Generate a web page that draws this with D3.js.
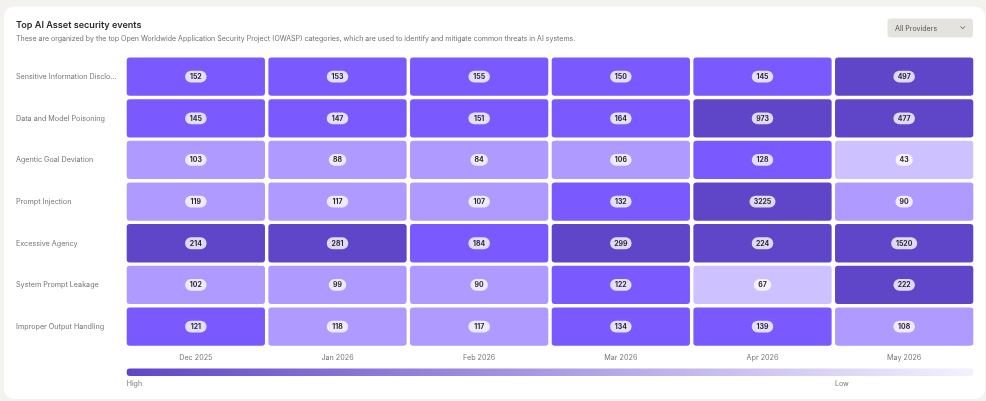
<!DOCTYPE html>
<html>
<head>
<meta charset="utf-8">
<script src="https://cdn.jsdelivr.net/npm/d3@7"></script>
<style>
    html, body { margin: 0; padding: 0; background: #f3f2ee; overflow: hidden; }
    svg { display: block; font-family: Inter, "Noto Sans", sans-serif; filter: blur(0.5px); }
    .axis text { fill: #77756f; font-size: 7.2px; font-family: Inter, "Noto Sans", sans-serif; }
</style>
</head>
<body>
<div id="chart"></div>
<script>
const categories = [
    "Sensitive Information Disclo...",
    "Data and Model Poisoning",
    "Agentic Goal Deviation",
    "Prompt Injection",
    "Excessive Agency",
    "System Prompt Leakage",
    "Improper Output Handling"
];
const months = ["Dec 2025", "Jan 2026", "Feb 2026", "Mar 2026", "Apr 2026", "May 2026"];

// one row per category, same order as above
const sensitiveInfo = [152, 153, 155, 150, 145, 497];
const dataPoisoning = [145, 147, 151, 164, 973, 477];
const goalDeviation = [103, 88, 84, 106, 128, 43];
const promptInjection = [119, 117, 107, 132, 3225, 90];
const excessiveAgency = [214, 281, 184, 299, 224, 1520];
const promptLeakage = [102, 99, 90, 122, 67, 222];
const outputHandling = [121, 118, 117, 134, 139, 108];
const rows = [sensitiveInfo, dataPoisoning, goalDeviation, promptInjection, excessiveAgency, promptLeakage, outputHandling];

const width = 986, height = 401;

const svg = d3.select("#chart").append("svg")
    .attr("width", width)
    .attr("height", height);

const x = d3.scaleBand().domain(months).range([126.7, 973.3]).paddingInner(0.024);
const y = d3.scaleBand().domain(categories).range([57.5, 345.7]).paddingInner(0.08);

// color steps of the heatmap
const color = d3.scaleThreshold()
    .domain([70, 120, 200])
    .range(["#cdc2ff", "#af9aff", "#7a5aff", "#5f46c8"]);

// gradient for the legend
const grad = svg.append("defs").append("linearGradient").attr("id", "legendGrad");
grad.append("stop").attr("offset", "0%").attr("stop-color", "#5f46c8");
grad.append("stop").attr("offset", "100%").attr("stop-color", "#f4f1ff");

// card
svg.append("rect")
    .attr("x", 4).attr("y", 6.5)
    .attr("width", 981).attr("height", 392.5)
    .attr("rx", 10)
    .attr("fill", "#fff");

// title and subtitle
svg.append("text")
    .attr("x", 16).attr("y", 28)
    .attr("font-size", 9.1).attr("font-weight", 600)
    .attr("fill", "#2b2a28")
    .text("Top AI Asset security events");
svg.append("text")
    .attr("x", 16).attr("y", 40.6)
    .attr("font-size", 7)
    .attr("fill", "#73716b")
    .text("These are organized by the top Open Worldwide Application Security Project (OWASP) categories, which are used to identify and mitigate common threats in AI systems.");

// dropdown
svg.append("rect")
    .attr("x", 887.5).attr("y", 18.5)
    .attr("width", 85.5).attr("height", 19)
    .attr("rx", 3)
    .attr("fill", "#e4e3de");
svg.append("text")
    .attr("x", 895).attr("y", 30.5)
    .attr("font-size", 7.1)
    .attr("fill", "#55534e")
    .text("All Providers");
svg.append("path")
    .attr("d", "M960.5 26.5l2.2 2.2l2.2-2.2")
    .attr("fill", "none")
    .attr("stroke", "#55534e")
    .attr("stroke-width", 0.9);

// axes
const yAxis = svg.append("g")
    .attr("class", "axis")
    .attr("transform", "translate(16,0)")
    .call(d3.axisLeft(y).tickSize(0));
yAxis.select(".domain").remove();
yAxis.selectAll("text").attr("x", 0).attr("text-anchor", "start");

const xAxis = svg.append("g")
    .attr("class", "axis")
    .attr("transform", "translate(0,351.4)")
    .call(d3.axisBottom(x).tickSize(0));
xAxis.select(".domain").remove();

// cells
const cells = [];
rows.forEach(function(values, r){
    values.forEach(function(v, c){
        cells.push({category: categories[r], month: months[c], value: v});
    });
});

const cell = svg.append("g").selectAll("g")
    .data(cells)
    .join("g")
    .attr("transform", function(d){
        return "translate(" + x(d.month) + "," + y(d.category) + ")";
    });

cell.append("rect")
    .attr("width", x.bandwidth())
    .attr("height", y.bandwidth())
    .attr("rx", 3)
    .attr("fill", function(d){ return color(d.value); });

// pill width depends on the number of digits
function pillWidth(v){
    const n = String(v).length;
    return n > 3 ? 26 : (n > 2 ? 21.5 : 17.5);
}

cell.append("rect")
    .attr("x", function(d){ return x.bandwidth() / 2 - pillWidth(d.value) / 2; })
    .attr("y", y.bandwidth() / 2 - 5.9)
    .attr("width", function(d){ return pillWidth(d.value); })
    .attr("height", 11.8)
    .attr("rx", 5.9)
    .attr("fill", "#fff")
    .attr("fill-opacity", 0.8);

cell.append("text")
    .attr("x", x.bandwidth() / 2)
    .attr("y", y.bandwidth() / 2 + 2.5)
    .attr("text-anchor", "middle")
    .attr("font-size", 6.9)
    .attr("font-weight", 700)
    .attr("fill", "#2a2833")
    .text(function(d){ return d.value; });

// legend
svg.append("rect")
    .attr("x", 126.7).attr("y", 368.5)
    .attr("width", 846.6).attr("height", 7.5)
    .attr("rx", 3)
    .attr("fill", "url(#legendGrad)");
svg.append("text")
    .attr("x", 126.7).attr("y", 385.5)
    .attr("font-size", 7)
    .attr("fill", "#77756f")
    .text("High");
svg.append("text")
    .attr("x", 835).attr("y", 385.5)
    .attr("font-size", 7)
    .attr("fill", "#77756f")
    .text("Low");
</script>
</body>
</html>
